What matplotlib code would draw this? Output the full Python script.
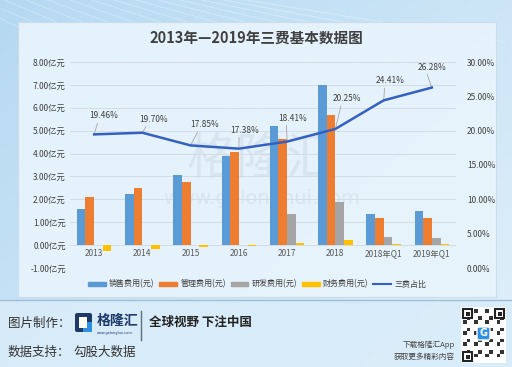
import numpy as np
import matplotlib
matplotlib.use("Agg")
import matplotlib.pyplot as plt
from matplotlib.patches import Rectangle, FancyBboxPatch, Patch
from matplotlib.lines import Line2D

plt.rcParams['font.family'] = ['Noto Sans CJK SC', 'DejaVu Sans']

# 数据
categories = ["2013", "2014", "2015", "2016", "2017", "2018", "2018年Q1", "2019年Q1"]
sales = [1.58, 2.24, 3.07, 3.90, 5.19, 7.00, 1.35, 1.48]      # 销售费用(亿元)
admin = [2.11, 2.50, 2.75, 4.05, 4.64, 5.67, 1.19, 1.17]      # 管理费用(亿元)
rnd = [0, 0, 0, 0, 1.38, 1.88, 0.37, 0.30]                    # 研发费用(亿元)
finance = [-0.27, -0.15, -0.10, -0.03, 0.09, 0.22, 0.03, 0.05]  # 财务费用(亿元)
ratio = [19.46, 19.70, 17.85, 17.38, 18.41, 20.25, 24.41, 26.28]  # 三费占比(%)
label_offsets = [(10, 14), (11, 9), (14, 16), (6, 14), (5, 19), (12, 26), (7, 15), (0, 16)]

W, H = 512, 367
fig = plt.figure(figsize=(W / 100, H / 100), dpi=100)

# 背景
bg = fig.add_axes([0, 0, 1, 1], zorder=-10)
bg.set_xlim(0, W)
bg.set_ylim(H, 0)
bg.axis("off")
gx = np.linspace(0, 1, 256)
gy = np.linspace(0, 1, 256)
GX, GY = np.meshgrid(gx, gy)
t = np.clip(0.55 * GX + 0.45 * GY, 0, 1)
c0 = np.array([0.71, 0.85, 0.95])
c1 = np.array([0.88, 0.94, 0.98])
img = c0[None, None, :] * (1 - t[..., None]) + c1[None, None, :] * t[..., None]
bg.imshow(img, extent=[0, W, H, 0], aspect="auto", zorder=0)
# 左上角的装饰线
for k in range(14):
    x0 = -40 + k * 22
    bg.plot([x0, x0 + 260], [0, 120 - k * 6], color="white", lw=0.6, alpha=0.35, zorder=1)
# 图表面板
bg.add_patch(Rectangle((18, 22), 478, 275, facecolor="#e8f4fc", edgecolor="#c9dcea",
                       lw=0.8, alpha=0.93, zorder=2))
# 页脚
bg.add_patch(Rectangle((0, 300), W, 67, facecolor="#d9ecf9", edgecolor="none", alpha=0.9, zorder=2))
bg.plot([0, W], [300, 300], color="#9fbfd8", lw=1.0, zorder=3)

# 水印
bg.text(262, 160, "格隆汇", fontsize=36, color="#9aa6b0", alpha=0.16, ha="center", va="center", zorder=3)
bg.text(262, 198, "www.gelonghui.com", fontsize=14, color="#9aa6b0", alpha=0.16, ha="center",
        va="center", zorder=3, family="DejaVu Sans")

# 标题
bg.text(256, 38, "2013年—2019年三费基本数据图", fontsize=10.5, fontweight="bold",
        color="#404040", ha="center", va="center", zorder=5)

# 主图
ax = fig.add_axes([70 / W, 1 - 268 / H, 386 / W, 206 / H])
ax.set_facecolor("none")
x = np.arange(len(categories))
bw = 0.18
colors = ["#5b9bd5", "#ed7d31", "#a5a5a5", "#ffc000"]
series = [sales, admin, rnd, finance]
names = ["销售费用(元)", "管理费用(元)", "研发费用(元)", "财务费用(元)"]
for i, (vals, col) in enumerate(zip(series, colors)):
    ax.bar(x + (i - 1.5) * bw, vals, bw, color=col, zorder=3)

ax.set_xlim(-0.5, len(categories) - 0.5)
ax.set_ylim(-1, 8)
ax.set_yticks(range(-1, 9))
ax.set_yticklabels([f"{v:.2f}亿元" for v in range(-1, 9)], fontsize=6, color="#404040")
ax.grid(axis="y", color="#d4dde4", lw=0.7, zorder=0)
for s in ["top", "right", "left"]:
    ax.spines[s].set_visible(False)
ax.spines["bottom"].set_position(("data", 0))
ax.spines["bottom"].set_visible(False)
ax.set_xticks(x)
ax.set_xticklabels(categories, fontsize=6, color="#595959")
ax.tick_params(length=0, pad=3)

ax2 = ax.twinx()
ax2.set_ylim(0, 30)
ax2.set_yticks(range(0, 31, 5))
ax2.set_yticklabels([f"{v:.2f}%" for v in range(0, 31, 5)], fontsize=6, color="#404040")
ax2.tick_params(length=0, pad=8)
for s in ax2.spines.values():
    s.set_visible(False)
ax2.plot(x, ratio, color="#3461c1", lw=1.8, zorder=4)
for xi, r, off in zip(x, ratio, label_offsets):
    ax2.annotate(f"{r:.2f}%", (xi, r), xytext=off, textcoords="offset pixels",
                 fontsize=6, color="#404040", ha="center", va="bottom",
                 arrowprops=dict(arrowstyle="-", color="#a6a6a6", lw=0.6,
                                 shrinkA=0, shrinkB=1, relpos=(0.3, 0)))

# 图例
handles = [Patch(color=c) for c in colors] + [Line2D([], [], color="#3461c1", lw=1.5)]
leg = fig.legend(handles, names + ["三费占比"], loc="center", bbox_to_anchor=(257 / W, 1 - 284 / H),
                 ncol=5, frameon=False, fontsize=5.8, handlelength=2.2, handleheight=0.35,
                 handletextpad=0.4, columnspacing=0.6, labelcolor="#404040")

# 页脚文字
bg.text(8, 323, "图片制作：", fontsize=9, color="#333333", va="center", zorder=5)
bg.add_patch(FancyBboxPatch((75, 313), 17, 19, boxstyle="round,pad=0,rounding_size=2",
                            facecolor="#1e3a68", edgecolor="none", zorder=5))
bg.add_patch(Rectangle((83, 322), 9, 10, facecolor="#2f8fe0", edgecolor="none", zorder=6))
bg.add_patch(Rectangle((79, 317), 8, 11, facecolor="white", edgecolor="none", zorder=6))
bg.text(97, 321, "格隆汇", fontsize=10, color="#1e3a68", va="center", zorder=5, fontweight="bold")
bg.text(97, 333, "www.gelonghui.com", fontsize=2.5, color="#1e3a68", va="center", zorder=5,
        family="DejaVu Sans")
bg.plot([141, 141], [311, 340], color="#5c6e80", lw=1.0, zorder=5)
bg.text(149, 322, "全球视野 下注中国", fontsize=9, fontweight="bold", color="#222222",
        va="center", zorder=5)
bg.text(8, 352, "数据支持：", fontsize=9, color="#333333", va="center", zorder=5)
bg.text(73, 352, "勾股大数据", fontsize=9, color="#333333", va="center", zorder=5)
bg.text(455, 345, "下载格隆汇App", fontsize=5.5, color="#444444", ha="right", va="center", zorder=5)
bg.text(455, 357, "获取更多精彩内容", fontsize=5.5, color="#444444", ha="right", va="center", zorder=5)

# 二维码（装饰）
bg.add_patch(Rectangle((461, 307), 45, 56, facecolor="white", edgecolor="none", zorder=5))
ii, jj = np.indices((14, 11))
qr = ((ii * 7 + jj * 5 + ii * jj) % 3 == 0).astype(float)
bg.imshow(1 - qr * 0.8, cmap="gray", vmin=0, vmax=1, extent=[463, 504, 361, 309],
          aspect="auto", interpolation="nearest", zorder=6)
for (cx, cy) in [(463, 309), (495, 309), (463, 352)]:
    bg.add_patch(Rectangle((cx, cy), 9, 9, facecolor="white", edgecolor="#222222", lw=1.5, zorder=7))
    bg.add_patch(Rectangle((cx + 2.5, cy + 2.5), 4, 4, facecolor="#222222", edgecolor="none", zorder=7))
bg.add_patch(FancyBboxPatch((477, 327), 13, 13, boxstyle="round,pad=0,rounding_size=2",
                            facecolor="#2f8fe0", edgecolor="white", lw=1, zorder=7))
bg.text(483.5, 333.5, "G", fontsize=7, fontweight="bold", color="white", ha="center",
        va="center", zorder=8, family="DejaVu Sans")
bg.set_xlim(0, W)
bg.set_ylim(H, 0)

fig.savefig("out.png", dpi=100)
